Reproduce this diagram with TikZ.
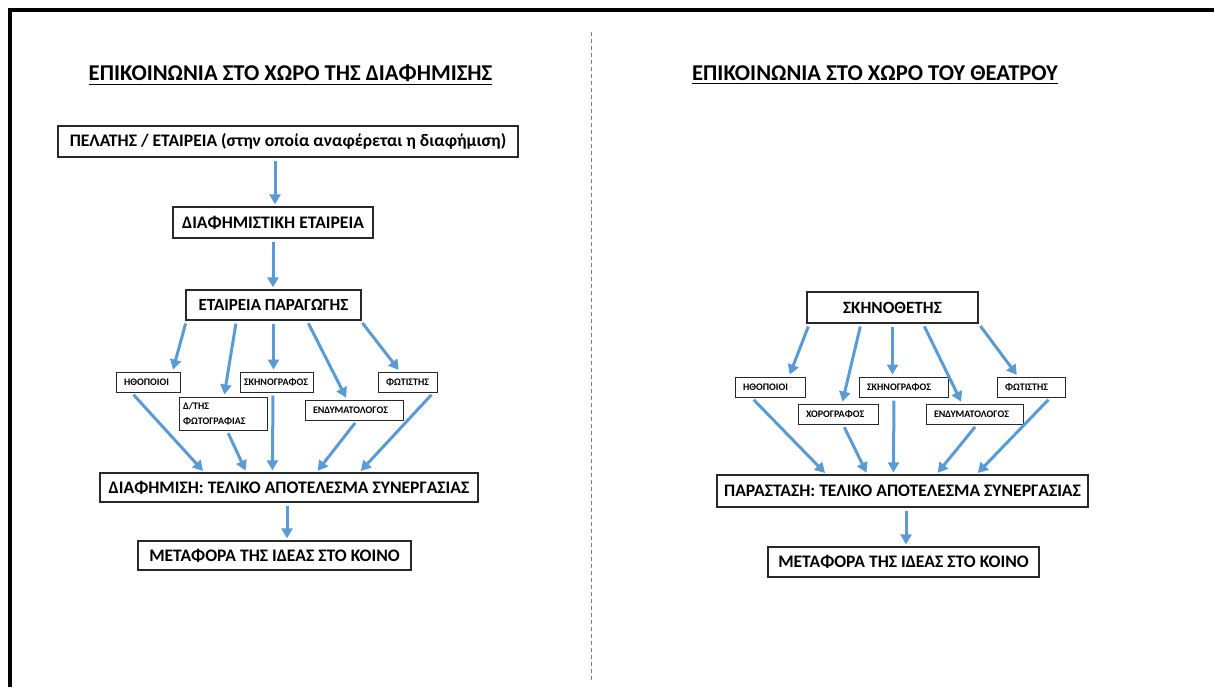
\documentclass[tikz,border=0pt]{standalone}
\usepackage{fontspec}
\setmainfont{Carlito}
\usetikzlibrary{arrows.meta,calc}

\definecolor{arrowblue}{RGB}{91,155,213}
\definecolor{boxline}{RGB}{40,40,40}

\tikzset{
  box/.style={draw=boxline, line width=0.6pt, fill=white, inner sep=0pt,
    minimum height=15.5pt, font=\bfseries\fontsize{8.8}{10.5}\selectfont},
  mini/.style={draw=boxline, line width=0.5pt, fill=white, inner ysep=0pt,
    inner xsep=4pt, minimum height=10pt, align=left, text width=#1,
    font=\bfseries\fontsize{5}{7.5}\selectfont},
  heading/.style={anchor=base, inner sep=0pt, font=\bfseries\fontsize{11.3}{13}\selectfont},
  arr/.style={draw=arrowblue, line width=1.5pt, shorten <=1.5pt, shorten >=1pt,
    -{Triangle[length=5pt,width=5.5pt]}},
}

\begin{document}
\begin{tikzpicture}[x=0.5pt, y=-0.5pt]
\useasboundingbox (0,0) rectangle (1214,687);
% frame and separator
\draw[line width=1.8pt] (10,687) -- (10,10) -- (1214,10);
\draw[gray, line width=0.4pt, dash pattern=on 2pt off 1.5pt] (591,32) -- (591,682);

% advertising
\node[heading] (titleL) at (290.5,80) {\underline{ΕΠΙΚΟΙΝΩΝΙΑ ΣΤΟ ΧΩΡΟ ΤΗΣ ΔΙΑΦΗΜΙΣΗΣ}};
\node[box, minimum width=230pt] (client) at (288,141.5) {ΠΕΛΑΤΗΣ / ΕΤΑΙΡΕΙΑ (στην οποία αναφέρεται η διαφήμιση)};
\node[box, minimum width=100pt] (adag) at (273,222.5) {ΔΙΑΦΗΜΙΣΤΙΚΗ ΕΤΑΙΡΕΙΑ};
\node[box, minimum width=87.5pt, minimum height=15pt, font=\bfseries\fontsize{8.5}{10}\selectfont] (prod) at (273.5,305) {ΕΤΑΙΡΕΙΑ ΠΑΡΑΓΩΓΗΣ};
\node[mini=24pt] (actL) at (148,382) {ΗΘΟΠΟΙΟΙ};
\node[mini=40pt, inner xsep=2pt, minimum height=16.5pt] (photL) at (223,413.5) {Δ/ΤΗΣ\\ΦΩΤΟΓΡΑΦΙΑΣ};
\node[mini=32.5pt, inner xsep=2pt] (setL) at (276.5,382) {ΣΚΗΝΟΓΡΑΦΟΣ};
\node[mini=41pt] (costL) at (354,410) {ΕΝΔΥΜΑΤΟΛΟΓΟΣ};
\node[mini=21.5pt] (lightL) at (407.5,382) {ΦΩΤΙΣΤΗΣ};
\node[box, minimum width=189pt, minimum height=14.5pt] (resL) at (289,487.5) {ΔΙΑΦΗΜΙΣΗ: ΤΕΛΙΚΟ ΑΠΟΤΕΛΕΣΜΑ ΣΥΝΕΡΓΑΣΙΑΣ};
\node[box, minimum width=136.5pt, minimum height=14.5pt] (pubL) at (274.5,555.5) {ΜΕΤΑΦΟΡΑ ΤΗΣ ΙΔΕΑΣ ΣΤΟ ΚΟΙΝΟ};

\draw[arr] ($(client.south)+(-13,0)$) -- ($(adag.north)+(2,0)$);
\draw[arr] (adag.south) -- (adag.south |- prod.north);
\draw[arr] ($(prod.south west)+(1,0)$) -- ($(actL.north east)+(-8,0)$);
\draw[arr] ($(prod.south west)+(51,0)$) -- ($(photL.north)+(1,0)$);
\draw[arr] (prod.south) -- (prod.south |- setL.north);
\draw[arr] ($(prod.south)+(33.5,0)$) -- ($(costL.north)+(-7,0)$);
\draw[arr] ($(prod.south east)+(-1,0)$) -- ($(lightL.north)+(-7.5,0)$);
\draw[arr] ($(actL.south west)+(16,0)$) -- ($(resL.north west)+(105,0)$);
\draw[arr] ($(photL.south)+(4,0)$) -- ($(resL.north west)+(147,0)$);
\draw[arr] ($(setL.south)+(-3.5,0)$) -- ($(resL.north west)+(173,0)$);
\draw[arr] ($(costL.south)+(3,0)$) -- ($(resL.north west)+(217,0)$);
\draw[arr] ($(lightL.south east)+(-4,0)$) -- ($(resL.north west)+(260,0)$);
\draw[arr] ($(resL.south)+(-2,0)$) -- ($(pubL.north)+(12.5,0)$);

% theatre
\node[heading] (titleR) at (875,80) {\underline{ΕΠΙΚΟΙΝΩΝΙΑ ΣΤΟ ΧΩΡΟ ΤΟΥ ΘΕΑΤΡΟΥ}};
\node[box, minimum width=85.5pt, font=\bfseries\fontsize{8.6}{10}\selectfont] (dir) at (892.5,307.5) {ΣΚΗΝΟΘΕΤΗΣ};
\node[mini=27pt] (actR) at (770,387) {ΗΘΟΠΟΙΟΙ};
\node[mini=32pt] (chorR) at (838,414) {ΧΟΡΟΓΡΑΦΟΣ};
\node[mini=36.5pt] (setR) at (903.5,387) {ΣΚΗΝΟΓΡΑΦΟΣ};
\node[mini=40.5pt] (costR) at (974.5,414) {ΕΝΔΥΜΑΤΟΛΟΓΟΣ};
\node[mini=26pt] (lightR) at (1031,387) {ΦΩΤΙΣΤΗΣ};
\node[box, minimum width=185.5pt, minimum height=16pt] (resR) at (902.5,491) {ΠΑΡΑΣΤΑΣΗ: ΤΕΛΙΚΟ ΑΠΟΤΕΛΕΣΜΑ ΣΥΝΕΡΓΑΣΙΑΣ};
\node[box, minimum width=135.5pt, minimum height=15pt] (pubR) at (903.5,562) {ΜΕΤΑΦΟΡΑ ΤΗΣ ΙΔΕΑΣ ΣΤΟ ΚΟΙΝΟ};

\draw[arr] ($(dir.south west)+(3,0)$) -- ($(actR.north)+(19,0)$);
\draw[arr] ($(dir.south)+(-31.5,0)$) -- ($(chorR.north)+(4,0)$);
\draw[arr] (dir.south) -- (dir.south |- setR.north);
\draw[arr] ($(dir.south)+(30.5,0)$) -- ($(costR.north)+(-12.5,0)$);
\draw[arr] (dir.south east) -- ($(lightR.north)+(-13,0)$);
\draw[arr] ($(actR.south west)+(17,0)$) -- ($(resR.north west)+(110,0)$);
\draw[arr] ($(chorR.south)+(5,0)$) -- ($(resR.north west)+(151,0)$);
\draw[arr] ($(setR.south)+(-9.5,0)$) -- ($(resR.north west)+(177,0)$);
\draw[arr] ($(costR.south)+(2.5,0)$) -- ($(resR.north west)+(220,0)$);
\draw[arr] ($(lightR.south east)+(-15,0)$) -- ($(resR.north west)+(260,0)$);
\draw[arr] ($(resR.south)+(3.5,0)$) -- ($(pubR.north)+(2.5,0)$);
\end{tikzpicture}
\end{document}
